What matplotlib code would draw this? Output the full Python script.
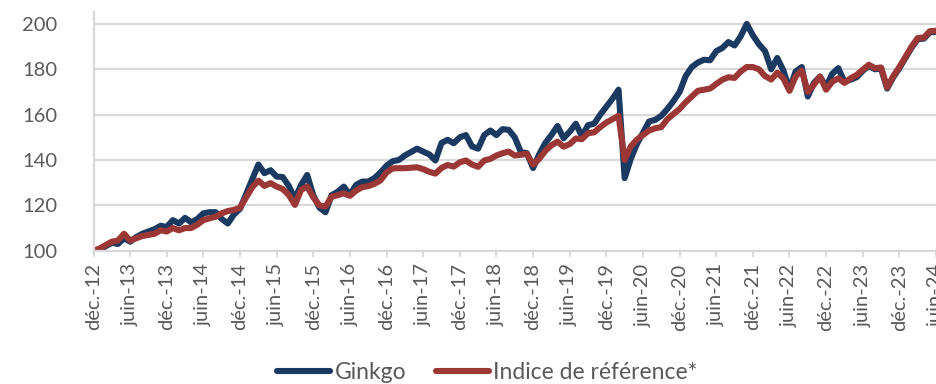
import matplotlib
matplotlib.use("Agg")
import matplotlib.pyplot as plt

# Monthly base-100 values, from déc.-12 (month 0) to juin-24 (month 138)
ginkgo = [
    100, 100.5, 102, 103.5, 103, 105.5, 104, 106, 107.5, 108.5,
    109.5, 111, 110.5, 113.5, 112, 114.5, 112.5, 114, 116.5, 117,
    117, 114, 112, 116, 118.5, 125, 131.5, 138, 134.2, 135.5,
    132.7, 132.5, 128.5, 123, 129, 133.4, 124.5, 119, 117, 124.5,
    126, 128.3, 124.6, 129, 130.5, 130.5, 132, 134.5, 137.5, 139.5,
    140, 142, 143.5, 145, 143.7, 142.5, 139.8, 147.5, 148.9, 147.4,
    150, 151, 146, 145, 151, 153, 151, 153.6, 153.3, 150,
    143.5, 143, 136.5, 142.5, 147.5, 151, 155, 149.6, 152.5, 156,
    150.5, 155.4, 156, 160, 163.5, 167, 171, 132, 140.5, 147,
    152, 157, 157.7, 159.5, 162.5, 166, 170, 177, 181, 183,
    184.2, 184, 188, 189.4, 192, 190.5, 194.5, 200, 195, 191,
    188, 180, 185, 179.5, 171, 179, 181, 168, 174, 176.8,
    172.4, 178, 180.5, 174.5, 175.4, 176.5, 179.3, 181.5, 180, 180.3,
    171.5, 176.5, 180.5, 185, 189.5, 193.3, 193.5, 196.3, 196.5,
]
indice = [
    100, 101, 102.5, 104, 104.5, 107.5, 104.5, 105.5, 106.5, 107,
    107.5, 109, 108.5, 110, 109, 110, 110, 111.5, 113.5, 114.3,
    115, 116.5, 117.5, 118, 119, 123.5, 128, 130.9, 128.6, 129.8,
    128.3, 127.2, 124.5, 120.2, 126.8, 128.3, 123.5, 120, 119.5, 123.8,
    124.5, 125.3, 124.2, 126.5, 128, 128.5, 129.5, 131, 134.5, 136.3,
    136.4, 136.4, 136.6, 136.8, 136, 134.8, 134, 136.5, 137.8, 137.1,
    139, 139.8, 138, 137, 139.8, 140.5, 142, 143, 143.7, 142,
    142.3, 142.7, 138, 140.5, 144, 146.5, 148.1, 145.9, 147, 149.5,
    149.2, 151.8, 152.2, 154.5, 156.5, 158, 159.5, 140, 146, 149,
    151, 153, 154, 154.5, 158, 160.3, 162.5, 165.5, 168, 170.5,
    171, 171.5, 173.5, 175.4, 176.5, 176.2, 179, 181, 181, 180,
    177, 175.5, 178.5, 176, 170.5, 176.8, 179.5, 170, 173.2, 176.8,
    171, 174.5, 176, 174, 176, 177.5, 179.8, 182, 180.5, 180.8,
    172, 177, 181, 185.5, 190, 193.8, 194, 196.8, 197,
]
tick_labels = []
for yr in range(12, 25):
    if yr > 12:
        tick_labels.append("juin-%d" % yr)
    if yr < 24:
        tick_labels.append("déc.-%d" % yr)
y_ticks = [100, 120, 140, 160, 180, 200]

navy = "#1b3a62"
red = "#9b3836"
grey_txt = "#595959"
grey_line = "#d9d9d9"

plt.rcParams["font.family"] = ["Lato", "DejaVu Sans"]

fig = plt.figure(figsize=(9.36, 3.84), dpi=100)
ax = fig.add_axes([0.0999, 0.347, 0.9001, 0.622])

months = list(range(len(ginkgo)))
ax.plot(months, ginkgo, color=navy, lw=4.4, solid_joinstyle="round",
        solid_capstyle="round", label="Ginkgo")
ax.plot(months, indice, color=red, lw=4.4, solid_joinstyle="round",
        solid_capstyle="round", label="Indice de référence*")

ax.set_xlim(0, 138)
ax.set_ylim(100, 205.3)
ax.set_yticks(y_ticks)
ax.set_xticks(range(0, 139, 6))
ax.set_xticklabels(tick_labels, rotation=90)

ax.grid(axis="y", color=grey_line, lw=1.6)
ax.set_axisbelow(True)
for side in ["top", "right"]:
    ax.spines[side].set_visible(False)
for side in ["left", "bottom"]:
    ax.spines[side].set_color(grey_line)
    ax.spines[side].set_linewidth(1.6)

ax.tick_params(axis="y", length=0, pad=26, labelsize=14.5, labelcolor=grey_txt)
ax.tick_params(axis="x", length=4, width=1.4, color=grey_line, pad=5,
               labelsize=14.5, labelcolor=grey_txt)

fig.legend(loc="center", bbox_to_anchor=(0.521, 0.03), ncol=2, frameon=False,
           fontsize=16.5, labelcolor=grey_txt, handlelength=2.3,
           handletextpad=0.2, columnspacing=1.3)

fig.savefig("out.png", dpi=100)
